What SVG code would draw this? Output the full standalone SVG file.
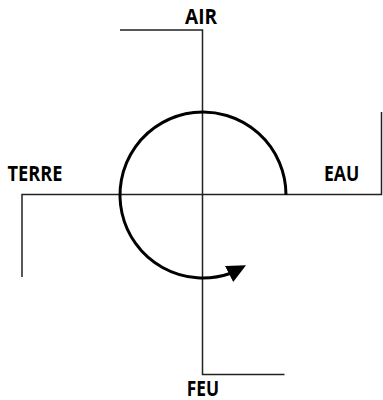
<svg xmlns="http://www.w3.org/2000/svg" width="383" height="400" viewBox="0 0 383 400">
  <style>
    .arm { fill: none; stroke: #222; stroke-width: 1.5; }
    .cycle { fill: none; stroke: #000; stroke-width: 3; }
    .lbl { font-family: "Open Sans", "Noto Sans", "Liberation Sans", sans-serif; font-weight: bold; font-size: 21.5px; fill: #000; }
  </style>
  <defs>
    <marker id="head" markerUnits="userSpaceOnUse" viewBox="0 0 19 18" markerWidth="19" markerHeight="18" refX="1" refY="9" orient="-27">
      <path d="M0,0 L19,9 L0,18 z" fill="#000"/>
    </marker>
  </defs>
  <g id="connectors">
    <path class="arm" d="M120,30 H202.5 V374.5 H284.5"/>
    <path class="arm" d="M22,277 V194.5 H381.5 V112"/>
    <path class="cycle" d="M286,195 A83,83 0 1 0 230,273.5" marker-end="url(#head)"/>
  </g>
  <g id="air"><text class="lbl" x="185" y="24" textLength="32" lengthAdjust="spacingAndGlyphs">AIR</text></g>
  <g id="terre"><text class="lbl" x="7.5" y="180.7" textLength="55" lengthAdjust="spacingAndGlyphs">TERRE</text></g>
  <g id="eau"><text class="lbl" x="324" y="180.7" textLength="35.3" lengthAdjust="spacingAndGlyphs">EAU</text></g>
  <g id="feu"><text class="lbl" x="186.7" y="395.5" textLength="32.3" lengthAdjust="spacingAndGlyphs">FEU</text></g>
</svg>
